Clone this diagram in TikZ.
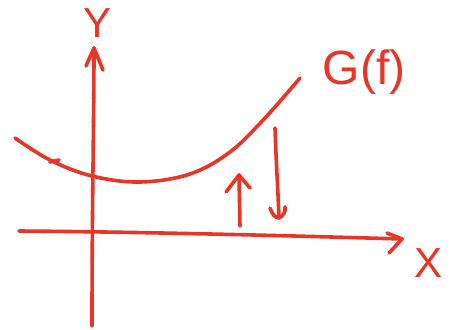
\documentclass[tikz,border=0pt]{standalone}
\usepackage{fontspec}
\setmainfont{Liberation Sans}
\definecolor{pen}{RGB}{233,52,38}
\begin{document}
\begin{tikzpicture}[x=1pt,y=-1pt,
  stroke/.style={draw=pen,line width=3.6pt,line cap=round,line join=round},
  lbl/.style={text=pen,inner sep=0pt,font=\fontsize{48}{48}\selectfont}]
\useasboundingbox (0,0) rectangle (451,330);
% y axis
\coordinate (ybot) at (92,326);
\coordinate (ytop) at (94,48);
\draw[stroke] (ybot) .. controls (92,200) and (94,120) .. (ytop);
\draw[stroke] (86,66) -- (ytop) -- (103,70);
% x axis
\coordinate (xleft) at (19,231);
\coordinate (xright) at (402,239);
\draw[stroke] (xleft) .. controls (150,232) and (300,236) .. (xright);
\draw[stroke] (387,233) -- (xright) -- (389,253);
% curve G(f)
\draw[stroke] plot[smooth,tension=0.6] coordinates {(15,138) (50,160) (92,176) (140,182) (190,174) (230,152) (265,118) (300,78)};
\draw[stroke] (50,162) -- (59,160);
% up arrow
\coordinate (upb) at (240,226);
\coordinate (upt) at (239,175);
\draw[stroke] (upb) -- (upt);
\draw[stroke] (226,192) -- (upt) -- (250,188);
% down arrow
\coordinate (dnt) at (275,128);
\coordinate (dnb) at (279,218);
\draw[stroke] (dnt) .. controls (276,160) and (278,190) .. (dnb);
\draw[stroke] (270,208) .. controls (272,214) and (275,218) .. (dnb) .. controls (283,216) and (286,212) .. (285,207);
% labels
\node[lbl] (glabel) at (364,72) {G(f)};
\node[lbl,font=\fontsize{42}{42}\selectfont] (xlabel) at (429,263) {X};
\node[lbl,font=\fontsize{42}{42}\selectfont] (ylabel) at (98,23) {Y};
\end{tikzpicture}
\end{document}
